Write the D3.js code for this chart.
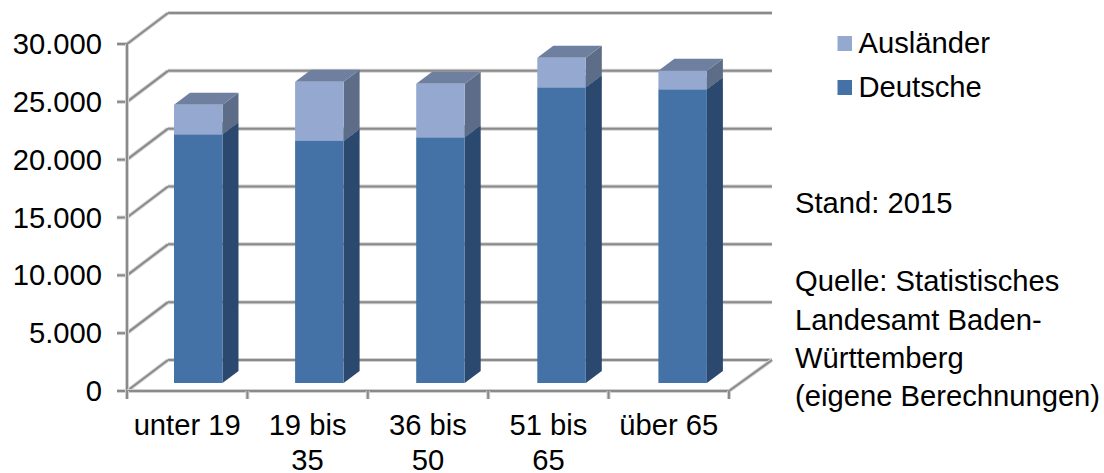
<!DOCTYPE html>
<html>
<head>
<meta charset="utf-8">
<script src="https://cdn.jsdelivr.net/npm/d3@7"></script>
<style>
  html, body { margin: 0; padding: 0; background: #fff; }
  svg { display: block; }
  text { font-family: "Liberation Sans", Arial, sans-serif; font-size: 29.2px; fill: #000; }
</style>
</head>
<body>
<div id="chart"></div>
<script>
const categories = ["unter 19", "19 bis 35", "36 bis 50", "51 bis 65", "über 65"];
const categoryLines = [["unter 19"], ["19 bis", "35"], ["36 bis", "50"], ["51 bis", "65"], ["über 65"]];
const deutsche = [21500, 20930, 21240, 25560, 25390];
const auslaender = [2550, 5110, 4630, 2550, 1600];
const seriesNames = ["Deutsche", "Ausländer"];
const yTicks = [0, 5000, 10000, 15000, 20000, 25000, 30000];
const noteLines = [
  ["Stand: 2015", 213],
  ["Quelle: Statistisches", 291],
  ["Landesamt Baden-", 329.5],
  ["Württemberg", 368],
  ["(eigene Berechnungen)", 406]
];

const width = 1104, height = 473;
const plotLeft = 127, plotRight = 729, plotBottom = 391, plotTop = 44;
const wallDx = 41, wallDy = -31;   // depth of the chart box
const barDx = 16, barDy = -12;     // depth of a bar
const barLift = 8, barWidth = 48.5;

const colors = {
  Deutsche: { front: "#4472a6", side: "#2b486e", top: "#3f6592" },
  "Ausländer": { front: "#95a9d0", side: "#5e6d87", top: "#6e7f9f" }
};

const svg = d3.select("#chart").append("svg")
  .attr("width", width)
  .attr("height", height);

const x = d3.scaleBand().domain(categories).range([plotLeft, plotRight]);
// bars sit mid-depth in the box, so they step a little wider than the axis
const xBar = d3.scaleBand().domain(categories).range([137.7, 743.2]);
const y = d3.scaleLinear().domain([0, 30000]).range([plotBottom, plotTop]);

const fmt = d => d === 0 ? "0" : d3.format(",")(d).replace(",", ".");

// grid + walls, each line twice for the soft edge
function wallLine(x1, y1, x2, y2) {
  [["#d2d2d2", 4], ["#8a8a8a", 2]].forEach(([c, w]) => {
    svg.append("line")
      .attr("x1", x1).attr("y1", y1)
      .attr("x2", x2).attr("y2", y2)
      .attr("stroke", c).attr("stroke-width", w);
  });
}

yTicks.forEach(t => {
  wallLine(plotLeft + wallDx, y(t) + wallDy, plotRight + wallDx + 2, y(t) + wallDy);
  wallLine(plotLeft, y(t), plotLeft + wallDx, y(t) + wallDy);
  wallLine(plotLeft - 10, y(t), plotLeft, y(t));
});
wallLine(plotLeft, plotTop, plotLeft, plotBottom);
wallLine(plotLeft, plotBottom, plotRight, plotBottom);
wallLine(plotRight, plotBottom, plotRight + wallDx + 2, plotBottom + wallDy);
x.domain().forEach(c => wallLine(x(c), plotBottom, x(c), plotBottom + 8));
wallLine(plotRight, plotBottom, plotRight, plotBottom + 8);

// stacked data
const stack = d3.stack().keys(seriesNames)(categories.map((c, i) => ({
  category: c,
  Deutsche: deutsche[i],
  "Ausländer": auslaender[i]
})));

const poly = pts => pts.map(p => p.join(",")).join(" ");

stack.forEach(layer => {
  const col = colors[layer.key];
  const g = svg.append("g");
  layer.forEach(d => {
    const bx = xBar(d.data.category) + xBar.bandwidth() / 2 - barWidth / 2;
    const y0 = y(d[0]) - barLift;
    const y1 = y(d[1]) - barLift;
    g.append("polygon")
      .attr("fill", col.side)
      .attr("points", poly([
        [bx + barWidth, y0], [bx + barWidth + barDx, y0 + barDy],
        [bx + barWidth + barDx, y1 + barDy], [bx + barWidth, y1]
      ]));
    g.append("polygon")
      .attr("fill", col.top)
      .attr("points", poly([
        [bx, y1], [bx + barDx, y1 + barDy],
        [bx + barWidth + barDx, y1 + barDy], [bx + barWidth, y1]
      ]));
    g.append("rect")
      .attr("x", bx).attr("y", y1)
      .attr("width", barWidth).attr("height", y0 - y1)
      .attr("fill", col.front);
  });
});

// y labels
svg.selectAll(".ylab")
  .data(yTicks)
  .join("text")
  .attr("class", "ylab")
  .attr("x", 102)
  .attr("y", d => y(d) + 10)
  .attr("text-anchor", "end")
  .text(fmt);

// x labels
categories.forEach((c, i) => {
  const t = svg.append("text").attr("text-anchor", "middle");
  categoryLines[i].forEach((line, j) => {
    t.append("tspan")
      .attr("x", x(c) + x.bandwidth() / 2)
      .attr("y", 435 + j * 35)
      .text(line);
  });
});

// legend
[["Ausländer", 43.5], ["Deutsche", 87.5]].forEach(([name, cy]) => {
  svg.append("rect")
    .attr("x", 837.5).attr("y", cy - 7.5)
    .attr("width", 14.5).attr("height", 15)
    .attr("fill", colors[name].front);
  svg.append("text").attr("x", 858.5).attr("y", cy + 9.5).text(name);
});

// side note
svg.selectAll(".note")
  .data(noteLines)
  .join("text")
  .attr("class", "note")
  .attr("x", 795)
  .attr("y", d => d[1])
  .text(d => d[0]);
</script>
</body>
</html>
